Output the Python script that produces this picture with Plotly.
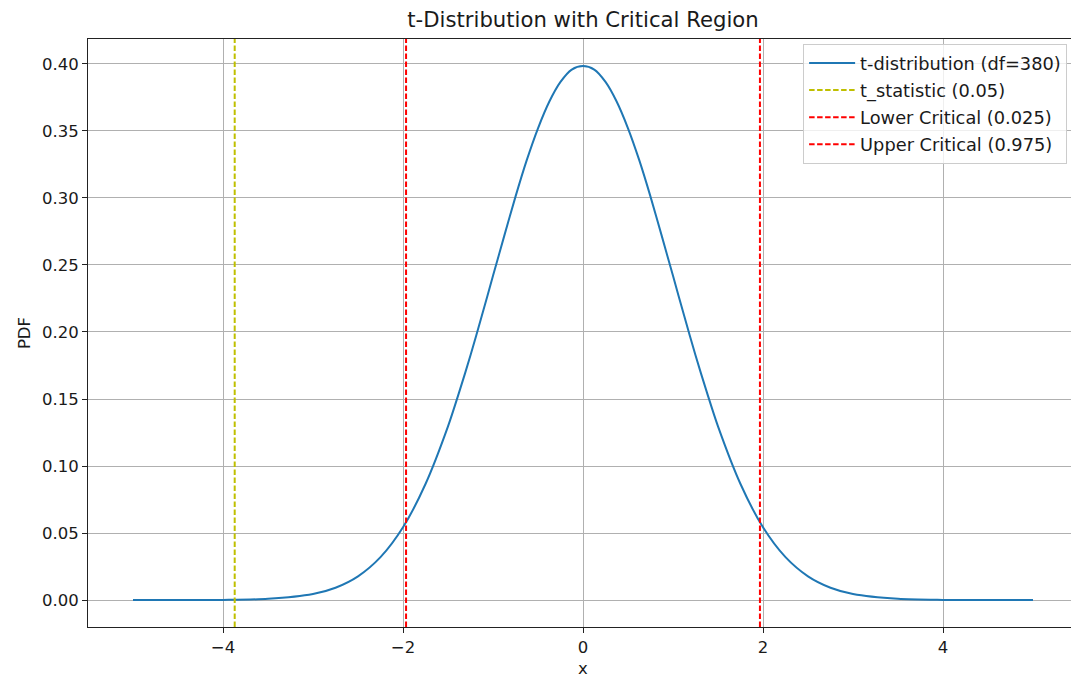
import plotly.graph_objects as go

# Values
x_vals = [-5.0, -4.5, -4.0, -3.5, -3.0, -2.75, -2.5, -2.25, -2.0, -1.75, -1.5, -1.375, -1.25, -1.125, -1.0,
          -0.875, -0.75, -0.625, -0.5, -0.375, -0.25, -0.125, 0.0, 0.125, 0.25, 0.375, 0.5, 0.625, 0.75,
          0.875, 1.0, 1.125, 1.25, 1.375, 1.5, 1.75, 2.0, 2.25, 2.5, 2.75, 3.0, 3.5, 4.0, 4.5, 5.0]
pdf_vals = [0.0000, 0.0000, 0.0001, 0.0009, 0.0045, 0.0092, 0.0177, 0.0320, 0.0543, 0.0866, 0.1296, 0.1553,
            0.1826, 0.2119, 0.2419, 0.2717, 0.3010, 0.3282, 0.3520, 0.3718, 0.3866, 0.3958, 0.3984, 0.3958,
            0.3866, 0.3718, 0.3520, 0.3282, 0.3010, 0.2717, 0.2419, 0.2119, 0.1826, 0.1553, 0.1296, 0.0866,
            0.0543, 0.0320, 0.0177, 0.0092, 0.0045, 0.0009, 0.0001, 0.0000, 0.0000]

t_statistic = -3.87
lower_critical = -1.966
upper_critical = 1.966

vline_names = ["t_statistic (0.05)", "Lower Critical (0.025)", "Upper Critical (0.975)"]
vline_values = [t_statistic, lower_critical, upper_critical]
vline_colors = ["#bfbf00", "#ff0000", "#ff0000"]

x_tick_vals = [-4, -2, 0, 2, 4]
x_tick_text = ["\u22124", "\u22122", "0", "2", "4"]
y_tick_vals = [0.00, 0.05, 0.10, 0.15, 0.20, 0.25, 0.30, 0.35, 0.40]

FONT = "DejaVu Sans"
TXT = "#1a1a1a"

fig = go.Figure()
fig.add_trace(go.Scatter(
    x=x_vals, y=pdf_vals, mode="lines", name="t-distribution (df=380)",
    line=dict(color="#1f77b4", width=2, shape="spline", smoothing=0.8),
    legendrank=1, legendgroup="g0",
))

for i, (nm, v, c) in enumerate(zip(vline_names, vline_values, vline_colors)):
    fig.add_shape(
        type="line", xref="x", yref="paper", x0=v, x1=v, y0=0, y1=1,
        line=dict(color=c, width=2, dash="5.5px,2.5px"),
        name=nm, showlegend=True, legendrank=2 + i, legendgroup="g%d" % (i + 1), layer="above",
    )

# The reference axes run past the right edge of the picture, so the figure is slightly wider
# than the window and the page margin is removed.
fig.update_layout(
    width=1078, height=679,
    margin=dict(l=88, r=0, t=39, b=52),
    paper_bgcolor="white", plot_bgcolor="white",
    font=dict(family=FONT, size=16.5, color=TXT),
    title=dict(text="t-Distribution with Critical Region", x=0.5, xref="paper", xanchor="center",
               y=1 - 20 / 679, yanchor="middle", font=dict(size=21.2, color=TXT)),
    legend=dict(x=0.989, xanchor="right", y=0.9915, yanchor="top",
                bgcolor="rgba(255,255,255,0.8)", bordercolor="#cccccc", borderwidth=1,
                font=dict(size=17.8, color=TXT), itemwidth=46,
                traceorder="grouped", tracegroupgap=0.9),
    showlegend=True,
)

fig.update_xaxes(
    range=[-5.5, 5.5], tickvals=x_tick_vals, ticktext=x_tick_text,
    showgrid=True, gridcolor="#b0b0b0", gridwidth=1, zeroline=False,
    showline=True, mirror=True, linecolor="#222222", linewidth=1,
    ticks="outside", ticklen=5, tickcolor="#222222", tickwidth=1,
    title=dict(text="x", standoff=6, font=dict(size=16.5)),
)
fig.update_yaxes(
    range=[-0.0201, 0.4186], tickvals=y_tick_vals, tickformat=".2f",
    showgrid=True, gridcolor="#b0b0b0", gridwidth=1, zeroline=False,
    showline=True, mirror=False, linecolor="#222222", linewidth=1,
    ticks="outside", ticklen=5, tickcolor="#222222", tickwidth=1,
    title=dict(text="PDF", standoff=7, font=dict(size=16.5)),
)

fig.write_html(
    "out.html",
    config={"displayModeBar": False},
    post_script="document.body.style.margin='0px';document.body.style.overflow='hidden';",
)
